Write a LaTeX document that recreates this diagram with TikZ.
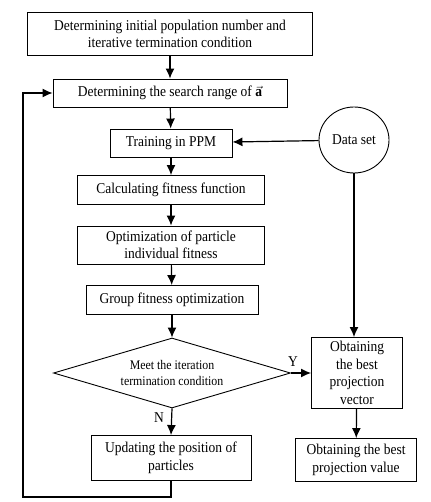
\documentclass[tikz,border=0pt]{standalone}
\usepackage{fontspec}
\setmainfont{Liberation Serif}[FakeStretch=0.9]
\usetikzlibrary{shapes.geometric,arrows.meta}
\begin{document}
\begin{tikzpicture}[x=1pt,y=-1pt,
  box/.style={draw, line width=0.9pt, align=center, inner sep=0pt, font=\fontsize{15}{17.5}\selectfont},
  arr/.style={line width=1.2pt, -{Latex[length=10pt,width=9pt]}},
  lbl/.style={font=\fontsize{15}{15}\selectfont, inner sep=1pt}]
\useasboundingbox (0,0) rectangle (430,502);
\node[box, minimum width=285pt, minimum height=43pt] (b1) at (170,34) {Determining initial population number and\\iterative termination condition};
\node[box, minimum width=234pt, minimum height=28pt] (b2) at (170,93) {Determining the search range of\ \ensuremath{\vec{\textbf{a}}}};
\node[box, minimum width=122pt, minimum height=28pt] (b3) at (171,143) {Training in PPM};
\node[draw, ellipse, line width=0.9pt, minimum width=70pt, minimum height=66pt, inner sep=0pt, font=\fontsize{15}{17.5}\selectfont] (ds) at (354,140) {Data set};
\node[box, minimum width=187pt, minimum height=29pt] (b4) at (171,190) {Calculating fitness function};
\node[box, minimum width=187pt, minimum height=38pt] (b5) at (171,245) {Optimization of particle\\individual fitness};
\node[box, minimum width=172pt, minimum height=29pt] (b6) at (172,300) {Group fitness optimization};
\node[draw, diamond, aspect=3.39, line width=0.9pt, minimum width=237pt, minimum height=70pt, inner sep=0pt, align=center, font=\fontsize{13.2}{16.5}\selectfont] (d) at (172,373) {Meet the iteration\\termination condition};
\node[box, minimum width=91pt, minimum height=71pt] (pv) at (357,373) {Obtaining\\the best\\projection\\vector};
\node[box, minimum width=121pt, minimum height=43pt] (pval) at (356,460) {Obtaining the best\\projection value};
\node[box, minimum width=160pt, minimum height=45pt] (up) at (171,458) {Updating the position of\\particles};
\node[lbl] (ly) at (293,362) {Y};
\node[lbl] (ln) at (159,418) {N};
\coordinate (c1) at (171,497);
\coordinate (c2) at (23,497);
\coordinate (c3) at (23,93);
\draw[arr] (b1) -- (b2);
\draw[arr] (b2) -- (b3);
\draw[arr] (ds) -- (b3);
\draw[arr] (b3) -- (b4);
\draw[arr] (b4) -- (b5);
\draw[arr] (b5) -- (b6);
\draw[arr] (b6) -- (d);
\draw[arr] (ds.south) -- (ds.south |- pv.north);
\draw[arr] (d.east) -- (pv.west);
\draw[arr] (d.south) -- (up.north);
\draw[arr] (pv) -- (pval);
\draw[arr] (up.south) -- (c1) -- (c2) -- (c3) -- (b2.west);
\end{tikzpicture}
\end{document}
